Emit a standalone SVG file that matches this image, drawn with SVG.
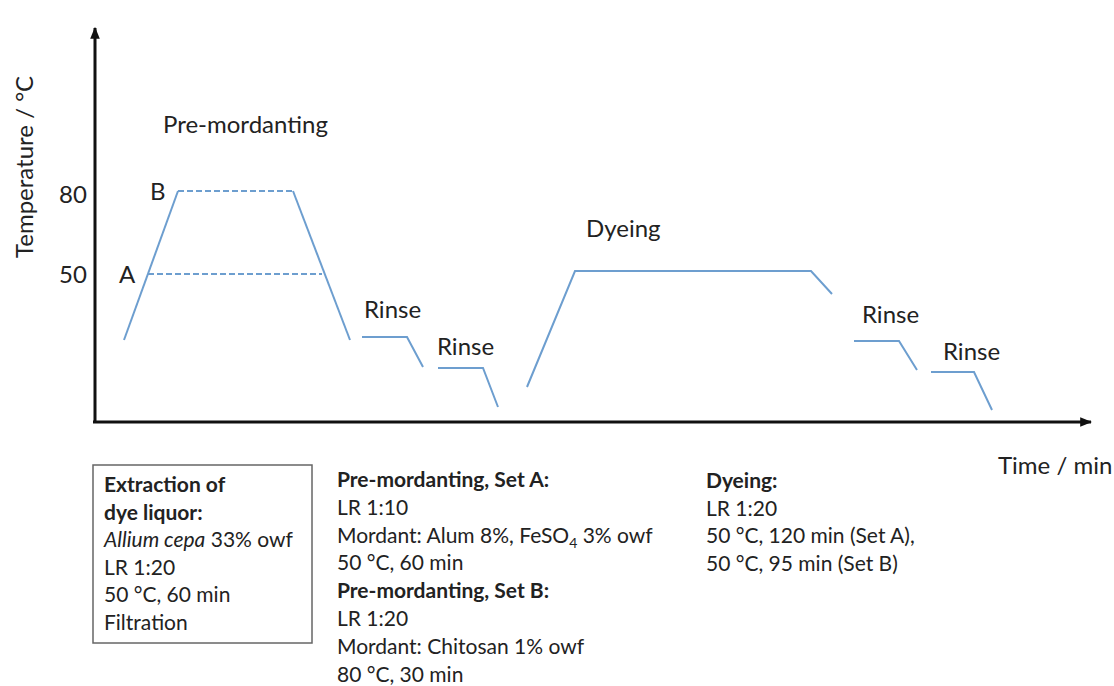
<svg xmlns="http://www.w3.org/2000/svg" width="1114" height="686" viewBox="0 0 1114 686">
<style>
text{font-family:Lato,"Open Sans",sans-serif;fill:#222}
.lbl{font-size:24px}
.info{font-size:21px}
.b{font-weight:bold}
.curve{fill:none;stroke:#6d9ecf;stroke-width:2}
.dash{stroke-dasharray:6 3}
.axis{fill:none;stroke:#111;stroke-width:3}
</style>
<defs>
<marker id="ah" viewBox="0 0 10 10" refX="9" refY="5" markerWidth="4" markerHeight="4" orient="auto" markerUnits="strokeWidth"><path d="M0,1 L10,5 L0,9 z" fill="#111"/></marker>
</defs>
<rect width="1114" height="686" fill="#fff"/>
<g id="axes">
<line class="axis" x1="95" y1="423" x2="95" y2="28" marker-end="url(#ah)"/>
<line class="axis" x1="93" y1="422" x2="1091" y2="422" marker-end="url(#ah)"/>
<text class="lbl" transform="translate(33,258) rotate(-90)">Temperature / °C</text>
<text class="lbl" x="59" y="203">80</text>
<text class="lbl" x="59" y="283">50</text>
<text class="lbl" x="998" y="474">Time / min</text>
</g>
<g id="connectors">
<polyline class="curve" points="124,340 178,191"/>
<polyline class="curve dash" points="178,191 293,191"/>
<polyline class="curve" points="293,191 350,340"/>
<polyline class="curve dash" points="148,274 322,274"/>
<polyline class="curve" points="362,337 407,337 423,367"/>
<polyline class="curve" points="438,368 483,368 498,407"/>
<polyline class="curve" points="527,387 575,271 811,271 832,294"/>
<polyline class="curve" points="854,341 899,341 917,370"/>
<polyline class="curve" points="931,372 974,372 992,410"/>
</g>
<g id="premordanting">
<text class="lbl" x="163" y="133">Pre-mordanting</text>
<text class="lbl" x="150" y="200">B</text>
<text class="lbl" x="119" y="283">A</text>
</g>
<g id="rinse1"><text class="lbl" x="364" y="318">Rinse</text></g>
<g id="rinse2"><text class="lbl" x="437" y="355">Rinse</text></g>
<g id="dyeing"><text class="lbl" x="586" y="237">Dyeing</text></g>
<g id="rinse3"><text class="lbl" x="862" y="323">Rinse</text></g>
<g id="rinse4"><text class="lbl" x="943" y="360">Rinse</text></g>
<g id="extraction">
<rect x="93" y="465" width="219" height="178" fill="none" stroke="#666" stroke-width="1.5"/>
<text class="info" x="104" y="492"><tspan class="b">Extraction of</tspan>
<tspan x="104" dy="27.6" class="b">dye liquor:</tspan>
<tspan x="104" dy="27.6"><tspan font-style="italic">Allium cepa</tspan> 33% owf</tspan>
<tspan x="104" dy="27.6">LR 1:20</tspan>
<tspan x="104" dy="27.6">50 °C, 60 min</tspan>
<tspan x="104" dy="27.6">Filtration</tspan></text>
</g>
<g id="premordant-info">
<text class="info" x="337" y="487"><tspan class="b">Pre-mordanting, Set A:</tspan>
<tspan x="337" dy="27.8">LR 1:10</tspan>
<tspan x="337" dy="27.8">Mordant: Alum 8%, FeSO<tspan font-size="14" dy="5">4</tspan><tspan dy="-5"> 3% owf</tspan></tspan>
<tspan x="337" dy="27.8">50 °C, 60 min</tspan>
<tspan x="337" dy="27.8" class="b">Pre-mordanting, Set B:</tspan>
<tspan x="337" dy="27.8">LR 1:20</tspan>
<tspan x="337" dy="27.8">Mordant: Chitosan 1% owf</tspan>
<tspan x="337" dy="27.8">80 °C, 30 min</tspan></text>
</g>
<g id="dyeing-info">
<text class="info" x="706" y="488"><tspan class="b">Dyeing:</tspan>
<tspan x="706" dy="27.5">LR 1:20</tspan>
<tspan x="706" dy="27.5">50 °C, 120 min (Set A),</tspan>
<tspan x="706" dy="27.5">50 °C, 95 min (Set B)</tspan></text>
</g>
</svg>
